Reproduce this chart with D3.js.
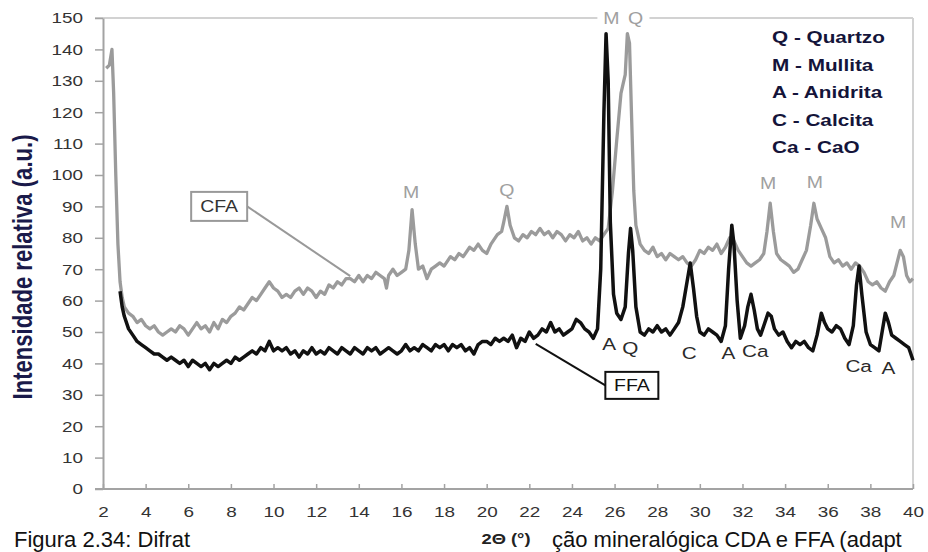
<!DOCTYPE html>
<meta charset='utf-8'>
<style>
    body { margin: 0; background: #fff; }
    svg { display: block; font-family: 'Liberation Sans', Arial, sans-serif; }
    .axis path, .axis line { stroke: #a3a3a3; }
    .axis path { stroke-width: 2; }
    .axis line { stroke-width: 1.5; }
    .axis text { fill: #333; font-size: 15.5px; }
    .border { stroke: #d2d2d2; stroke-width: 2; }
    .cfa { fill: none; stroke: #9b9b9b; stroke-width: 3.3; stroke-linejoin: round; }
    .ffa { fill: none; stroke: #111; stroke-width: 3.5; stroke-linejoin: round; }
</style>

<svg width="928" height="552"></svg>
<script src="https://d3js.org/d3.v7.min.js"></script>

<script>

// CFA pattern (grey), [2theta, intensity]
var cfaPattern = [
    [2.15,134],[2.3,135],[2.42,140],[2.5,126],[2.6,100],[2.7,78],[2.8,66],[2.9,61],[3.0,58],[3.2,56],
    [3.4,55],[3.6,53],[3.8,54],[4.0,52],[4.2,51],[4.4,52],[4.6,50],[4.8,49],[5.0,50],[5.2,51],
    [5.4,50],[5.6,52],[5.8,51],[6.0,49],[6.2,51],[6.4,53],[6.6,51],[6.8,52],[7.0,50],[7.2,53],
    [7.4,51],[7.6,54],[7.8,53],[8.0,55],[8.2,56],[8.4,58],[8.6,57],[8.8,59],[9.0,61],[9.2,60],
    [9.4,62],[9.6,64],[9.8,66],[10.0,64],[10.2,63],[10.4,61],[10.6,62],[10.8,61],[11.0,63],[11.2,64],
    [11.4,62],[11.6,64],[11.8,63],[12.0,61],[12.2,63],[12.4,62],[12.6,65],[12.8,64],[13.0,66],[13.2,65],
    [13.4,67],[13.6,67],[13.8,66],[14.0,68],[14.2,66],[14.4,68],[14.6,67],[14.8,69],[15.0,68],[15.2,67],
    [15.3,64],[15.4,68],[15.6,70],[15.8,68],[16.0,69],[16.2,70],[16.35,76],[16.5,89],[16.65,78],[16.8,70],
    [17.0,71],[17.2,67],[17.4,70],[17.6,71],[17.8,72],[18.0,71],[18.3,74],[18.5,73],[18.7,75],[18.9,74],
    [19.2,77],[19.4,76],[19.6,78],[19.8,76],[20.0,75],[20.2,78],[20.5,81],[20.7,82],[20.8,85],[20.95,90],
    [21.1,84],[21.3,80],[21.5,79],[21.7,81],[21.9,80],[22.1,82],[22.3,81],[22.5,83],[22.7,81],[22.9,82],
    [23.1,80],[23.3,82],[23.5,81],[23.7,79],[23.9,81],[24.1,80],[24.3,82],[24.5,79],[24.7,80],[24.9,78],
    [25.1,80],[25.3,79],[25.5,81],[25.7,83],[25.9,95],[26.1,111],[26.3,126],[26.4,129],[26.5,132],[26.6,145],
    [26.7,142],[26.8,118],[26.9,95],[27.0,84],[27.2,78],[27.4,76],[27.6,75],[27.8,77],[28.0,74],[28.2,75],
    [28.4,73],[28.6,75],[28.8,74],[29.0,73],[29.2,74],[29.4,72],[29.6,71],[29.8,73],[30.0,76],[30.2,75],
    [30.4,77],[30.6,76],[30.8,78],[31.0,75],[31.2,77],[31.4,80],[31.6,79],[31.8,76],[32.0,74],[32.2,72],
    [32.4,71],[32.6,72],[32.8,73],[33.0,75],[33.15,82],[33.3,91],[33.45,82],[33.6,75],[33.8,73],[34.0,72],
    [34.2,71],[34.4,69],[34.6,70],[34.8,73],[35.0,76],[35.2,84],[35.35,91],[35.5,86],[35.7,83],[35.9,80],
    [36.1,74],[36.3,72],[36.5,73],[36.7,71],[36.9,72],[37.1,70],[37.3,72],[37.5,71],[37.7,69],[37.9,66],
    [38.1,65],[38.3,66],[38.5,64],[38.7,63],[38.9,66],[39.1,68],[39.25,72],[39.4,76],[39.55,74],[39.7,68],
    [39.85,66],[40.0,67]
];

// FFA pattern (black), [2theta, intensity]
var ffaPattern = [
    [2.8,63],[2.9,58],[3.0,55],[3.2,51],[3.4,49],[3.6,47],[3.8,46],[4.0,45],[4.2,44],[4.4,43],
    [4.6,43],[4.8,42],[5.0,41],[5.2,42],[5.4,41],[5.6,40],[5.8,41],[6.0,39],[6.2,41],[6.4,40],
    [6.6,39],[6.8,40],[7.0,38],[7.2,40],[7.4,39],[7.6,40],[7.8,41],[8.0,40],[8.2,42],[8.4,41],
    [8.6,42],[8.8,43],[9.0,44],[9.2,43],[9.4,45],[9.6,44],[9.8,47],[10.0,44],[10.2,45],[10.4,44],
    [10.6,45],[10.8,43],[11.0,44],[11.2,42],[11.4,44],[11.6,43],[11.8,45],[12.0,43],[12.2,44],[12.4,43],
    [12.6,45],[12.8,44],[13.0,43],[13.2,45],[13.4,44],[13.6,43],[13.8,45],[14.0,44],[14.2,43],[14.4,45],
    [14.6,44],[14.8,45],[15.0,43],[15.2,44],[15.4,45],[15.6,44],[15.8,43],[16.0,44],[16.2,46],[16.4,44],
    [16.6,45],[16.8,44],[17.0,46],[17.2,45],[17.4,44],[17.6,46],[17.8,45],[18.0,46],[18.2,44],[18.4,46],
    [18.6,45],[18.8,46],[19.0,44],[19.2,45],[19.4,43],[19.6,46],[19.8,47],[20.0,47],[20.2,46],[20.4,48],
    [20.6,47],[20.8,48],[21.0,47],[21.2,49],[21.4,45],[21.6,48],[21.8,47],[22.0,50],[22.2,48],[22.4,49],
    [22.6,51],[22.8,50],[23.0,53],[23.2,50],[23.4,51],[23.6,49],[23.8,50],[24.0,51],[24.2,54],[24.4,53],
    [24.6,51],[24.8,50],[25.0,48],[25.2,51],[25.35,70],[25.5,120],[25.6,145],[25.7,130],[25.8,85],[25.95,62],
    [26.1,56],[26.3,54],[26.5,58],[26.65,75],[26.75,83],[26.85,76],[27.0,58],[27.2,50],[27.4,49],[27.6,51],
    [27.8,50],[28.0,52],[28.2,50],[28.4,51],[28.6,49],[28.8,51],[29.0,53],[29.2,58],[29.4,66],[29.55,72],
    [29.7,64],[29.85,55],[30.0,50],[30.2,49],[30.4,51],[30.6,50],[30.8,49],[31.0,47],[31.2,52],[31.35,70],
    [31.5,84],[31.6,78],[31.75,60],[31.9,48],[32.1,52],[32.25,58],[32.4,62],[32.55,57],[32.7,51],[32.85,49],
    [33.0,52],[33.2,56],[33.35,55],[33.5,51],[33.7,49],[33.9,50],[34.1,47],[34.3,45],[34.5,47],[34.7,46],
    [34.9,47],[35.1,45],[35.3,44],[35.5,49],[35.7,56],[35.85,53],[36.0,51],[36.2,50],[36.4,52],[36.6,51],
    [36.8,48],[37.0,46],[37.2,52],[37.35,65],[37.47,71],[37.6,62],[37.8,50],[38.0,46],[38.2,45],[38.4,44],
    [38.55,50],[38.7,56],[38.85,53],[39.0,49],[39.2,48],[39.4,47],[39.6,46],[39.8,45],[40.0,41]
];

// phase labels above/below peaks: [text, 2theta, intensity]
var cfaPeakLabels = [['M',16.45,94.6],['Q',20.95,95.2],['M',33.2,97.5],['M',35.4,97.8],['M',39.3,85]];
var topPeakLabels = [['M',25.85,150],['Q',26.98,150]];
var ffaPeakLabels = [['A',25.75,46.2],['Q',26.74,44.9],['C',29.5,43.3],['A',31.34,43.3],
                     ['Ca',32.6,43.9],['Ca',37.45,39.2],['A',38.85,38.5]];

var legendLines = ['Q - Quartzo', 'M - Mullita', 'A - Anidrita', 'C - Calcita', 'Ca - CaO'];

var xTicks = d3.range(2, 41, 2);
var yTicks = d3.range(0, 151, 10);

var svg = d3.select('svg');
var SX = 1.22; // the original picture is stretched sideways

var x = d3.scaleLinear().domain([2, 40]).range([103, 913]);
var y = d3.scaleLinear().domain([0, 150]).range([489, 18]);

// frame
svg.append('line').attr('class', 'border')
    .attr('x1', x(2) - 8).attr('x2', x(40)).attr('y1', y(150)).attr('y2', y(150));
svg.append('line').attr('class', 'border')
    .attr('x1', x(40)).attr('x2', x(40)).attr('y1', y(150)).attr('y2', y(0));

var yAxis = svg.append('g')
    .attr('class', 'axis')
    .attr('transform', 'translate(' + x(2) + ',0)')
    .call(d3.axisLeft(y).tickValues(yTicks).tickSize(8).tickSizeOuter(0).tickPadding(12));
yAxis.selectAll('text').attr('x', -20 / SX).attr('transform', 'scale(' + SX + ',1)');

var xAxis = svg.append('g')
    .attr('class', 'axis')
    .attr('transform', 'translate(0,' + y(0) + ')')
    .call(d3.axisBottom(x).tickValues(xTicks).tickSize(-5).tickSizeOuter(0).tickPadding(17));
xAxis.selectAll('text').attr('transform', 'scale(' + SX + ',1)');
xAxis.select('.domain').attr('d', 'M' + (x(2) - 8) + ',0H' + x(40));

// lines
var line = d3.line()
    .x(function(d) { return x(d[0]); })
    .y(function(d) { return y(d[1]); });

svg.append('path').datum(cfaPattern).attr('class', 'cfa').attr('d', line);
svg.append('path').datum(ffaPattern).attr('class', 'ffa').attr('d', line);

function label(g, tx, ty, str) {
    return g.append('text')
        .attr('transform', 'translate(' + tx + ',' + ty + ') scale(' + SX + ',1)')
        .text(str);
}

// peak labels
var pl = svg.append('g').attr('text-anchor', 'middle').style('font-size', '16px');
// white patch that cuts the top frame line behind the M Q labels
svg.insert('rect', 'g.axis')
    .attr('x', x(topPeakLabels[0][1]) - 14).attr('y', y(150) - 4)
    .attr('width', x(topPeakLabels[1][1]) - x(topPeakLabels[0][1]) + 28).attr('height', 8)
    .attr('fill', '#fff');
cfaPeakLabels.forEach(function(d) {
    label(pl, x(d[1]), y(d[2]), d[0]).attr('dy', '0.36em').attr('fill', '#a0a0a0');
});
topPeakLabels.forEach(function(d) {
    label(pl, x(d[1]), y(d[2]), d[0]).attr('dy', '0.36em').attr('fill', '#a0a0a0');
});
ffaPeakLabels.forEach(function(d) {
    label(pl, x(d[1]), y(d[2]), d[0]).attr('dy', '0.36em').attr('fill', '#2a2a2a')
        .style('font-size', '17px');
});

// boxed series names with leader lines
var boxes = [
    { name: 'CFA', cx: 7.45, cy: 90, tx: 13.6, ty: 67.8, w: 56, h: 29, color: '#999', text: '#333', side: 1 },
    { name: 'FFA', cx: 26.81, cy: 33, tx: 22.3, ty: 46.2, w: 53, h: 27, color: '#111', text: '#111', side: -1 }
];
boxes.forEach(function(b) {
    var g = svg.append('g');
    var bx = x(b.cx), by = y(b.cy);
    g.append('line')
        .attr('x1', bx + b.side * b.w / 2).attr('y1', by)
        .attr('x2', x(b.tx)).attr('y2', y(b.ty))
        .attr('stroke', b.color).attr('stroke-width', 2);
    g.append('rect')
        .attr('x', bx - b.w / 2).attr('y', by - b.h / 2).attr('width', b.w).attr('height', b.h)
        .attr('fill', '#fff').attr('stroke', b.color).attr('stroke-width', 2);
    label(g, bx, by, b.name).attr('dy', '0.36em').attr('text-anchor', 'middle')
        .attr('fill', b.text).style('font-size', '16px');
});

// legend of phases
var lg = svg.append('g').style('font-size', '17px').style('font-weight', 'bold').attr('fill', '#14143a');
legendLines.forEach(function(s, i) {
    label(lg, 772, 43 + i * 27.5, s);
});

// axis titles
svg.append('text')
    .attr('transform', 'translate(32,267) scale(' + SX + ',1) rotate(-90)')
    .attr('text-anchor', 'middle')
    .attr('textLength', 265).attr('lengthAdjust', 'spacingAndGlyphs')
    .style('font-size', '22px').style('font-weight', 'bold')
    .attr('fill', '#1a1a4a')
    .text('Intensidade relativa (a.u.)');

label(svg, 506, 544, '2Θ (°)')
    .attr('text-anchor', 'middle').style('font-size', '15px').style('font-weight', 'bold').attr('fill', '#222');

// caption of the page below the picture
svg.append('text').attr('x', 14).attr('y', 547).style('font-size', '22px').attr('fill', '#111')
    .text('Figura 2.34: Difrat');
svg.append('text').attr('x', 552).attr('y', 547).style('font-size', '22px').attr('fill', '#111')
    .text('ção mineralógica CDA e FFA (adapt');

</script>
